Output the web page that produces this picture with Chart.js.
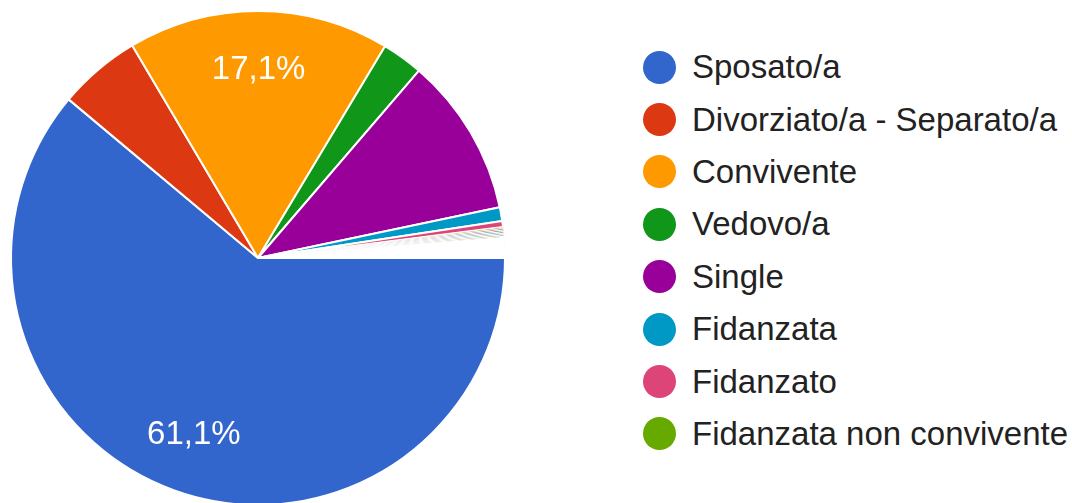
<!DOCTYPE html>
<html lang="it">
<head>
  <meta charset="UTF-8">
  <title>Stato civile</title>
  <script src="https://cdn.jsdelivr.net/npm/chart.js"></script>
  <style>
    html, body {
      margin: 0;
      padding: 0;
      background: #fff;
      overflow: hidden;
      width: 1072px;
      height: 503px;
      font-family: "Liberation Sans", Arial, sans-serif;
    }
    #wrap {
      position: absolute;
      left: 0;
      top: 0;
      width: 516px;
      height: 516px;
    }
    #legend {
      position: absolute;
      left: 643px;
      top: 41px;
      margin: 0;
      padding: 0;
      list-style: none;
    }
    #legend li {
      display: flex;
      align-items: center;
      height: 52.4px;
      font-size: 33px;
      color: #222;
      white-space: nowrap;
    }
    #legend .dot {
      width: 33px;
      height: 33px;
      border-radius: 50%;
      margin-right: 16px;
      flex: none;
    }
  </style>
</head>
<body>
  <div id="wrap"><canvas id="pie"></canvas></div>
  <ul id="legend"></ul>

  <script>
    // answers shown in the legend
    const mainLabels = ['Sposato/a', 'Divorziato/a - Separato/a', 'Convivente', 'Vedovo/a',
      'Single', 'Fidanzata', 'Fidanzato', 'Fidanzata non convivente'];
    const mainValues = [61.1, 5.4, 17.1, 2.7, 10.4, 0.9, 0.4, 0.1];

    // single-answer responses (not visible in the legend page)
    const otherLabels = ['Altro 1', 'Altro 2', 'Altro 3', 'Altro 4', 'Altro 5', 'Altro 6', 'Altro 7',
      'Altro 8', 'Altro 9', 'Altro 10', 'Altro 11', 'Altro 12', 'Altro 13', 'Altro 14', 'Altro 15',
      'Altro 16', 'Altro 17', 'Altro 18', 'Altro 19'];
    const otherValues = [0.1, 0.1, 0.1, 0.1, 0.1, 0.1, 0.1, 0.1, 0.1, 0.1,
      0.1, 0.1, 0.1, 0.1, 0.1, 0.1, 0.1, 0.1, 0.1];

    const palette = ['#3366cc', '#dc3912', '#ff9900', '#109618', '#990099', '#0099c6',
      '#dd4477', '#66aa00', '#b82e2e', '#316395', '#994499', '#22aa99', '#aaaa11',
      '#6633cc', '#e67300', '#8b0707', '#651067', '#329262', '#5574a6', '#3b3eac'];

    const labels = mainLabels.concat(otherLabels);
    const values = mainValues.concat(otherValues);
    const colors = labels.map((_, i) => palette[i % palette.length]);
    // first few tiny slices keep a thin separator so a hairline of colour shows,
    // the rest disappear under the white separators like in the original
    const borders = labels.map((_, i) => (i >= 7 && i < 14) ? 1 : 2);

    // percentage text inside the big slices
    const sliceLabels = {
      id: 'sliceLabels',
      afterDatasetsDraw(chart) {
        const ctx = chart.ctx;
        const meta = chart.getDatasetMeta(0);
        ctx.save();
        ctx.fillStyle = '#fff';
        ctx.font = '33px "Liberation Sans", Arial, sans-serif';
        ctx.textAlign = 'center';
        ctx.textBaseline = 'middle';
        meta.data.forEach((arc, i) => {
          const v = values[i];
          if (v < 15) return;
          const mid = (arc.startAngle + arc.endAngle) / 2;
          const r = arc.outerRadius * 0.76;
          const x = arc.x + Math.cos(mid) * r;
          const y = arc.y + Math.sin(mid) * r;
          ctx.fillText(v.toFixed(1).replace('.', ',') + '%', x, y);
        });
        ctx.restore();
      }
    };

    const ctx = document.getElementById('pie').getContext('2d');
    const chart = new Chart(ctx, {
      type: 'pie',
      data: {
        labels: labels,
        datasets: [{
          data: values,
          backgroundColor: colors,
          borderColor: '#fff',
          borderWidth: borders
        }]
      },
      options: {
        responsive: true,
        maintainAspectRatio: false,
        animation: false,
        rotation: 90,
        layout: { padding: 10 },
        plugins: {
          legend: { display: false },
          tooltip: { enabled: false }
        }
      },
      plugins: [sliceLabels]
    });

    // legend built from the chart data
    const legendEl = document.getElementById('legend');
    mainLabels.forEach((name, i) => {
      const li = document.createElement('li');
      const dot = document.createElement('span');
      dot.className = 'dot';
      dot.style.background = chart.data.datasets[0].backgroundColor[i];
      li.appendChild(dot);
      li.appendChild(document.createTextNode(name));
      legendEl.appendChild(li);
    });
  </script>
</body>
</html>
